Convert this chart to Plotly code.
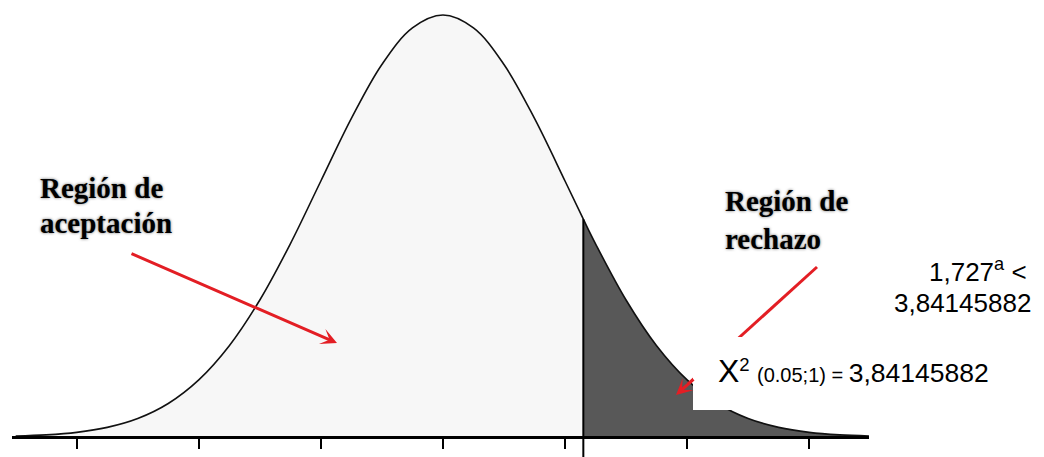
import plotly.graph_objects as go

# ---- data ----
# curve position (in standard-deviation units) and curve height (density units)
z_vals = [-3.5, -3.25, -3.0, -2.75, -2.5, -2.25, -2.0, -1.75, -1.5, -1.25, -1.0, -0.75,
          -0.5, -0.25, 0.0, 0.25, 0.5, 0.75, 1.0, 1.15, 1.25, 1.5, 1.75, 2.0, 2.25,
          2.5, 2.75, 3.0, 3.25, 3.5]
heights = [0.0009, 0.0020, 0.0044, 0.0091, 0.0175, 0.0317, 0.0540, 0.0863, 0.1295,
           0.1826, 0.2420, 0.3011, 0.3521, 0.3867, 0.3989, 0.3867, 0.3521, 0.3011,
           0.2420, 0.2059, 0.1826, 0.1295, 0.0863, 0.0540, 0.0317, 0.0175, 0.0091,
           0.0044, 0.0020, 0.0009]
critical = 1.15
tick_vals = [-3, -2, -1, 0, 1, 2, 3]

label_accept = ["Región de", "aceptación"]
label_reject = ["Región de", "rechazo"]
label_compare = ["1,727<sup>a</sup> <", "3,84145882"]
label_chi = ('<span style="font-size:32px">X</span><sup>2</sup> '
             '<span style="font-size:20px">(0.05;1) = </span>3,84145882')

# ---- layout geometry (pixels) ----
W, H = 1044, 457
plot_l, plot_r = 12, 869
base_px, peak_px = 437, 15
x_range = [-3.53, 3.49]
px_per_y = (base_px - peak_px) / max(heights)
y_range = [-(H - base_px) / px_per_y, base_px / px_per_y]


def px_x(px):
    return (px - plot_l) / (plot_r - plot_l)


def px_y(py):
    return (H - py) / H


ci = z_vals.index(critical)
left_x, left_y = z_vals[:ci + 1], heights[:ci + 1]
right_x, right_y = z_vals[ci:], heights[ci:]

fig = go.Figure()
fig.add_trace(go.Scatter(x=left_x, y=left_y, mode="lines", line=dict(width=0, shape="spline"),
                         fill="tozeroy", fillcolor="#f7f7f7", hoverinfo="skip", showlegend=False))
fig.add_trace(go.Scatter(x=right_x, y=right_y, mode="lines", line=dict(width=0, shape="spline"),
                         fill="tozeroy", fillcolor="#585858", hoverinfo="skip", showlegend=False))
fig.add_trace(go.Scatter(x=z_vals, y=heights, mode="lines",
                         line=dict(color="#111111", width=1.6, shape="spline"),
                         hoverinfo="skip", showlegend=False))

red = "#e31e24"

# critical value line (extends below the axis)
fig.add_shape(type="line", xref="x", yref="y", x0=critical, x1=critical,
              y0=y_range[0], y1=heights[ci], line=dict(color="black", width=2), layer="above")
# shaft of the right arrow (partly hidden under the label box)
fig.add_shape(type="line", xref="paper", yref="paper", x0=px_x(817), y0=px_y(267),
              x1=px_x(688), y1=px_y(384), line=dict(color=red, width=3), layer="above")
# white label box
fig.add_shape(type="rect", xref="paper", yref="paper", x0=px_x(693), x1=px_x(1012),
              y0=px_y(410), y1=px_y(337), fillcolor="white", line=dict(width=0), layer="above")

serif = dict(family="Liberation Serif", size=29, color="black", weight="bold",
             shadow="0px 0px 3px rgba(0,0,0,0.6)")
sans = dict(family="Liberation Sans, Arial", size=26, color="black")

annotations = [
    # arrows
    dict(xref="paper", yref="paper", x=px_x(337), y=px_y(343), ax=-207, ay=-90,
         text="", showarrow=True, arrowhead=3, arrowsize=0.9, arrowwidth=3,
         arrowcolor=red, standoff=0),
    dict(xref="paper", yref="paper", x=px_x(676), y=px_y(395), ax=19, ay=-17,
         text="", showarrow=True, arrowhead=3, arrowsize=0.9, arrowwidth=3,
         arrowcolor=red, standoff=0),
    # texts
    dict(xref="paper", yref="paper", x=px_x(38), y=px_y(198 + 7.5), xanchor="left",
         yanchor="bottom", text=label_accept[0], font=serif, showarrow=False),
    dict(xref="paper", yref="paper", x=px_x(38), y=px_y(233 + 7.5), xanchor="left",
         yanchor="bottom", text=label_accept[1], font=serif, showarrow=False),
    dict(xref="paper", yref="paper", x=px_x(723), y=px_y(211 + 7.5), xanchor="left",
         yanchor="bottom", text=label_reject[0], font=serif, showarrow=False),
    dict(xref="paper", yref="paper", x=px_x(723), y=px_y(249 + 7.5), xanchor="left",
         yanchor="bottom", text=label_reject[1], font=serif, showarrow=False),
    dict(xref="paper", yref="paper", x=px_x(927), y=px_y(282 + 6.5), xanchor="left",
         yanchor="bottom", text=label_compare[0], font=sans, showarrow=False),
    dict(xref="paper", yref="paper", x=px_x(892), y=px_y(313 + 6.5), xanchor="left",
         yanchor="bottom", text=label_compare[1], font=sans, showarrow=False),
    dict(xref="paper", yref="paper", x=px_x(716), y=px_y(383 + 7.8), xanchor="left",
         yanchor="bottom", text=label_chi,
         font=dict(family="Liberation Sans, Arial", size=26.5, color="black"),
         showarrow=False),
]

fig.update_layout(
    width=W, height=H,
    margin=dict(l=plot_l, r=W - plot_r, t=0, b=0, pad=0),
    paper_bgcolor="white", plot_bgcolor="white",
    xaxis=dict(range=x_range, domain=[0, 1], anchor="free", position=(H - base_px) / H,
               showline=True, linecolor="black", linewidth=3,
               ticks="outside", ticklen=10, tickwidth=1.5, tickcolor="black",
               tickvals=tick_vals, showticklabels=False,
               showgrid=False, zeroline=False, fixedrange=True),
    yaxis=dict(range=y_range, domain=[0, 1], visible=False, showgrid=False,
               zeroline=False, fixedrange=True),
    annotations=annotations,
    showlegend=False,
)

fig.write_html("out.html",
               config={"displayModeBar": False},
               post_script="document.body.style.margin='0px';"
                           "document.body.style.overflow='hidden';")
